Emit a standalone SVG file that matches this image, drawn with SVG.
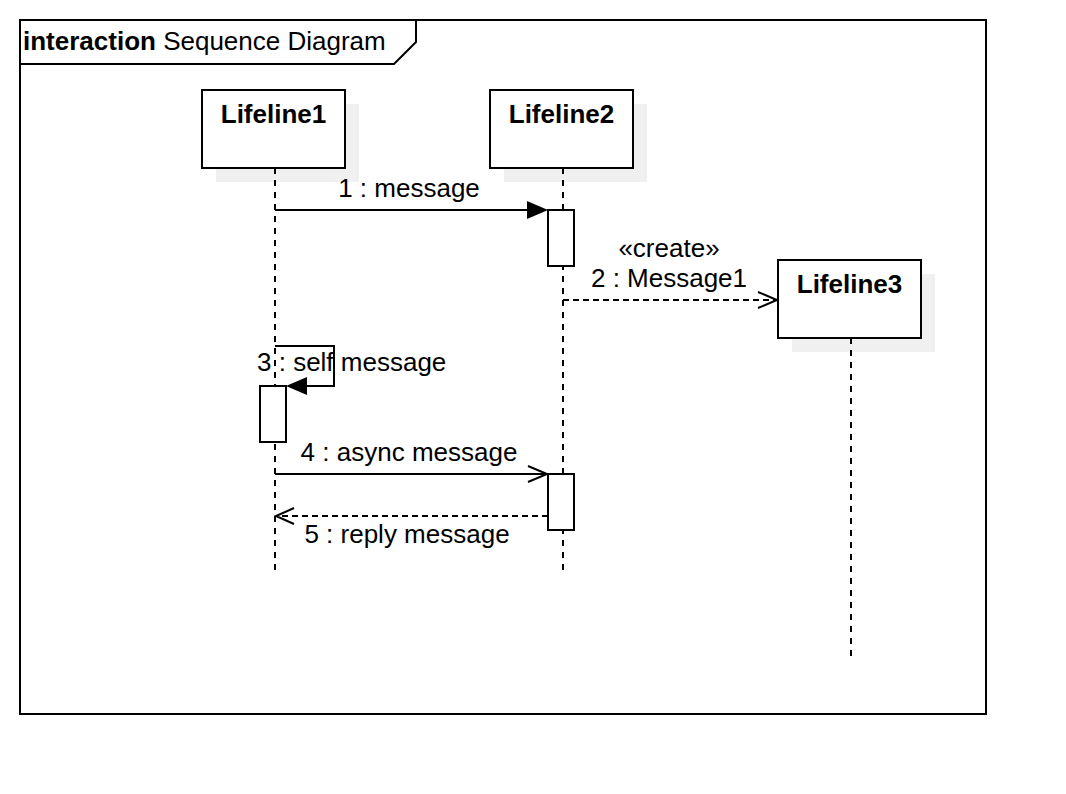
<svg xmlns="http://www.w3.org/2000/svg" width="1066" height="794" viewBox="0 0 1066 794">
<style>
text{font-family:"Liberation Sans",Arial,sans-serif;font-size:26px;fill:#000}
.b{font-weight:bold}
.box{fill:#fff;stroke:#000;stroke-width:2}
.sh{fill:#f0f0f0;stroke:none}
.ll{stroke:#000;stroke-width:2;stroke-dasharray:6,6;fill:none}
.ln{stroke:#000;stroke-width:2;fill:none}
.dl{stroke:#000;stroke-width:2;stroke-dasharray:6,4;fill:none}
</style>
<rect width="1066" height="794" fill="#fff"/>
<g id="frame">
<rect x="20" y="20" width="966" height="694" fill="none" stroke="#000" stroke-width="2"/>
<path d="M20 64 L394 64 L416 42 L416 20" fill="none" stroke="#000" stroke-width="2"/>
<text x="23" y="50"><tspan class="b">interaction</tspan> Sequence Diagram</text>
</g>
<g id="lifeline1">
<rect class="sh" x="216" y="104" width="143" height="78"/>
<rect class="box" x="202" y="90" width="143" height="78"/>
<text class="b" x="273.5" y="123" text-anchor="middle">Lifeline1</text>
<line class="ll" x1="275" y1="168" x2="275" y2="572"/>
</g>
<g id="lifeline2">
<rect class="sh" x="504" y="104" width="143" height="78"/>
<rect class="box" x="490" y="90" width="143" height="78"/>
<text class="b" x="561.5" y="123" text-anchor="middle">Lifeline2</text>
<line class="ll" x1="563" y1="168" x2="563" y2="572"/>
</g>
<g id="lifeline3">
<rect class="sh" x="792" y="274" width="143" height="78"/>
<rect class="box" x="778" y="260" width="143" height="78"/>
<text class="b" x="849.5" y="293" text-anchor="middle">Lifeline3</text>
<line class="ll" x1="851" y1="338" x2="851" y2="658"/>
</g>
<g id="activations">
<rect class="box" x="548" y="210" width="26" height="56"/>
<rect class="box" x="260" y="386" width="26" height="56"/>
<rect class="box" x="548" y="474" width="26" height="56"/>
</g>
<g id="connectors">
<line class="ln" x1="275" y1="210" x2="530" y2="210"/>
<polygon points="548,210 527,201 527,219" fill="#000"/>
<text x="409" y="197" text-anchor="middle">1 : message</text>
<line class="dl" x1="563" y1="300" x2="776" y2="300"/>
<polyline class="ln" points="758,292 777,300 758,308"/>
<text x="669" y="257" text-anchor="middle">«create»</text>
<text x="669" y="287" text-anchor="middle">2 : Message1</text>
<polyline class="ln" points="275,346 334,346 334,386 300,386"/>
<polygon points="286,386 307,377 307,395" fill="#000"/>
<text x="257" y="371">3 : self message</text>
<line class="ln" x1="275" y1="474" x2="546" y2="474"/>
<polyline class="ln" points="528,466 547,474 528,482"/>
<text x="409" y="461" text-anchor="middle">4 : async message</text>
<line class="dl" x1="548" y1="516" x2="277" y2="516"/>
<polyline class="ln" points="294,508 276,516 294,524"/>
<text x="407" y="543" text-anchor="middle">5 : reply message</text>
</g>
</svg>
